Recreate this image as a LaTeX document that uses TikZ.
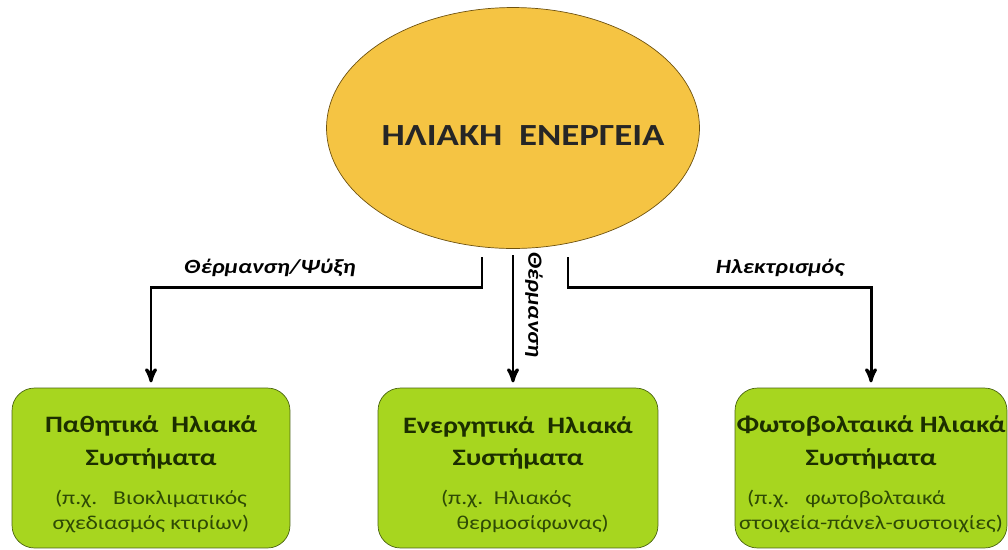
\documentclass[tikz,border=0pt]{standalone}
\usepackage{fontspec}
\setmainfont{Carlito}[FakeStretch=1.2]
\usepackage{tikz}
\usetikzlibrary{arrows,shapes.geometric}
\usepackage{xcolor}
\definecolor{sunyellow}{HTML}{F5C443}
\definecolor{sunedge}{HTML}{6E5210}
\definecolor{boxgreen}{HTML}{A7D61F}
\definecolor{boxedge}{HTML}{4A6410}
\definecolor{boxtext}{HTML}{1C2E00}
\definecolor{subtext}{HTML}{2E4A05}

\begin{document}
\begin{tikzpicture}[x=0.02cm,y=0.02cm,>=stealth',
  sunnode/.style={ellipse,draw=sunedge,fill=sunyellow,inner sep=0pt,
    minimum width=7.46cm,minimum height=4.82cm,
    font=\fontsize{17.5}{20}\selectfont\bfseries,text=black!85},
  sysbox/.style={draw=boxedge,fill=boxgreen,rounded corners=0.45cm,
    minimum height=3.2cm,align=center,text=boxtext,inner sep=0pt},
  conn/.style={->,line width=1.7pt},
  lbl/.style={font=\fontsize{11.5}{13}\selectfont\bfseries\itshape}]
\useasboundingbox (0,0) rectangle (1008,-549);
%%%SUN
\node[sunnode] (sun) at (513,-128)
  {\raisebox{-0.34cm}[0pt][0pt]{\makebox[0pt]{\hspace{0.4cm}ΗΛΙΑΚΗ\ \ ΕΝΕΡΓΕΙΑ}}};
%%%SYSTEMS
\node[sysbox,minimum width=5.56cm] (passive) at (151,-468)
  {{\fontsize{13.4}{20}\selectfont\bfseries\rule{0pt}{17pt}Παθητικά\ \ Ηλιακά}\\[6.5pt]
   {\fontsize{13.4}{20}\selectfont\bfseries Συστήματα}\\[10pt]
   {\fontsize{11.2}{13}\selectfont\color{subtext}(π.χ.\ \ \ Βιοκλιματικός}\\[2.5pt]
   {\fontsize{11.2}{13}\selectfont\color{subtext}σχεδιασμός κτιρίων)}};
\node[sysbox,minimum width=5.6cm] (active) at (518,-468)
  {{\fontsize{13.4}{20}\selectfont\bfseries\rule{0pt}{17pt}Ενεργητικά\ \ Ηλιακά}\\[6.5pt]
   {\fontsize{13.4}{20}\selectfont\bfseries Συστήματα}\\[10pt]
   {\fontsize{11.2}{13}\selectfont\color{subtext}(π.χ.\ \ Ηλιακός\hspace{1.2em}}\\[2.5pt]
   {\fontsize{11.2}{13}\selectfont\color{subtext}\hspace{1.5em}θερμοσίφωνας)}};
\node[sysbox,minimum width=5.44cm] (pv) at (871,-468)
  {{\fontsize{13.4}{20}\selectfont\bfseries\rule{0pt}{17pt}Φωτοβολταικά Ηλιακά}\\[6.5pt]
   {\fontsize{13.4}{20}\selectfont\bfseries Συστήματα}\\[10pt]
   {\fontsize{11.2}{13}\selectfont\color{subtext}(π.χ.\ \ \ φωτοβολταικά\hspace{2.5em}}\\[2.5pt]
   {\fontsize{11.2}{13}\selectfont\color{subtext}στοιχεία-πάνελ-συστοιχίες)}};
%%%CONNECTORS
\coordinate (l0) at (482,-257);
\coordinate (l1) at (482,-287);
\coordinate (m0) at (513,-255);
\coordinate (r0) at (568,-257);
\coordinate (r1) at (568,-287);
\draw[conn,shorten >=3pt] (l0) -- (l1) -| (passive.north);
\draw[conn,shorten >=3pt] (m0) -- (m0 |- active.north);
\draw[conn,shorten >=3pt] (r0) -- (r1) -| (pv.north);
%%%LABELS
\node[lbl] (heatcool) at (270,-268) {Θέρμανση/Ψύξη};
\node[lbl] (elec) at (780,-268) {Ηλεκτρισμός};
\node[lbl,rotate=-90] (heat) at (534,-305) {Θέρμανση};
\end{tikzpicture}
\end{document}
